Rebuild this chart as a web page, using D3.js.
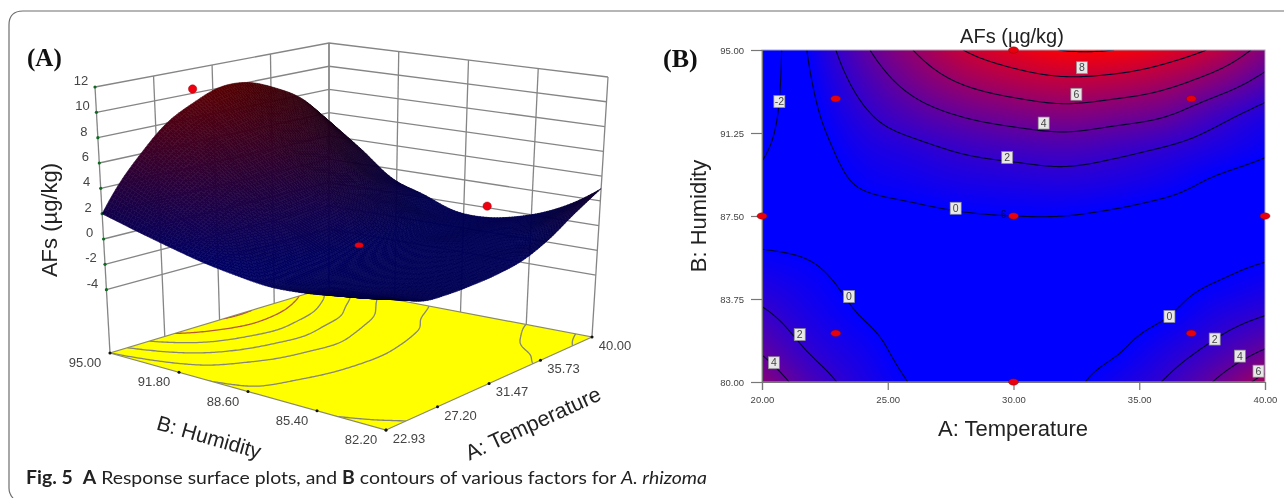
<!DOCTYPE html>
<html>
<head>
<meta charset="utf-8">
<script src="https://cdn.jsdelivr.net/npm/d3@7"></script>
<style>
  html, body { margin: 0; padding: 0; background: #fff; overflow: hidden; }
  svg { display: block; filter: blur(0.45px); }
  text { font-family: "Liberation Sans", Arial, sans-serif; }
</style>
</head>
<body>
<svg id="chart" width="1284" height="498"></svg>
<script>
// response values, one row per humidity
var tempGrid = [20, 22, 24, 26, 28, 30, 32, 34, 36, 38, 40];
var humGrid = [80, 81.5, 83, 84.5, 86, 87.5, 89, 90.5, 92, 93.5, 95];
var afsValues = [
  [5.4, 2.9, 1.2, -0.1, -0.6, -0.7, -0.4, 0.7, 2.1, 4.1, 6.7],
  [3.7, 1.75, 0.6, -0.5, -0.75, -0.8, -0.65, -0.2, 1.0, 2.4, 4.0],
  [2.35, 0.95, -0.05, -0.65, -0.85, -0.85, -0.8, -0.55, -0.1, 1.1, 2.0],
  [1.1, 0.35, -0.4, -0.75, -0.8, -0.8, -0.75, -0.7, -0.5, 0.0, 0.6],
  [0, -0.2, -0.6, -0.6, -0.55, -0.55, -0.55, -0.55, -0.6, -0.5, -0.3],
  [-0.9, -0.6, -0.5, -0.3, -0.1, 0, 0, -0.2, -0.5, -0.7, -0.8],
  [-1.6, -0.75, 0.15, 0.55, 0.95, 1.15, 1.3, 1.05, 0.55, -0.2, -0.7],
  [-2.2, -0.65, 0.8, 1.5, 2.2, 2.6, 2.85, 2.45, 1.85, 1.05, 0.25],
  [-2.75, -0.35, 1.65, 3.05, 4.05, 4.7, 5.1, 4.7, 4.05, 2.6, 1.2],
  [-3.2, 0, 2.6, 4.6, 6.1, 7.0, 7.5, 7.25, 6.5, 5.1, 3.3],
  [-3.6, 0.4, 3.6, 6.0, 8.0, 9.2, 10.05, 10, 9.1, 7.7, 5.3]
];
var contourLevels = [-2, 0, 2, 4, 6, 8, 10];

// 2d contour plot
var designPoints = [[22.93, 92.8], [37.07, 92.8], [22.93, 82.2], [37.07, 82.2], [20, 87.5], [30, 87.5], [40, 87.5], [30, 95], [30, 80]];
var contourLabels = [
  [20.69, 92.67, "-2"], [32.72, 94.2, "8"], [32.5, 93.0, "6"], [31.2, 91.7, "4"], [29.75, 90.14, "2"], [27.7, 87.85, "0"],
  [23.46, 83.86, "0"], [21.5, 82.14, "2"], [20.47, 80.87, "4"],
  [36.2, 82.96, "0"], [38, 81.94, "2"], [39, 81.17, "4"], [39.74, 80.49, "6"]
];
var xTicks2d = [20, 25, 30, 35, 40];
var yTicks2d = [80, 83.75, 87.5, 91.25, 95];

// 3d surface plot
var tempTicks = [22.93, 27.20, 31.47, 35.73, 40.00];
var humTicks = [82.20, 85.40, 88.60, 91.80, 95.00];
var afsTicks = [-4, -2, 0, 2, 4, 6, 8, 10, 12];
var surfacePoints = [[30, 95, 10.35], [40, 87.5, 0.13], [30, 87.5, 0.35]];

var svg = d3.select("#chart");
var defs = svg.append("defs");

// catmull rom through the read values so the drawn surface is not faceted
function cr(p0, p1, p2, p3, t) {
  return 0.5 * (2 * p1 + (p2 - p0) * t + (2 * p0 - 5 * p1 + 4 * p2 - p3) * t * t + (3 * p1 - p0 - 3 * p2 + p3) * t * t * t);
}
function cell(j, i) {
  var nx = tempGrid.length, ny = humGrid.length;
  if (i < 0) return 2 * cell(j, 0) - cell(j, 1);
  if (i >= nx) return 2 * cell(j, nx - 1) - cell(j, nx - 2);
  if (j < 0) return 2 * cell(0, i) - cell(1, i);
  if (j >= ny) return 2 * cell(ny - 1, i) - cell(ny - 2, i);
  return afsValues[j][i];
}
function afsAt(a, b) {
  var u = (a - tempGrid[0]) / (tempGrid[1] - tempGrid[0]);
  var v = (b - humGrid[0]) / (humGrid[1] - humGrid[0]);
  var i = Math.min(Math.floor(u), tempGrid.length - 2), j = Math.min(Math.floor(v), humGrid.length - 2);
  var s = u - i, t = v - j;
  var r = [-1, 0, 1, 2].map(function(dj) {
    return cr(cell(j + dj, i - 1), cell(j + dj, i), cell(j + dj, i + 1), cell(j + dj, i + 2), s);
  });
  return cr(r[0], r[1], r[2], r[3], t);
}

var colorScale = d3.scaleLinear().domain([0, 10.3]).range(["#0000ff", "#ff0000"]).clamp(true);

// contour lines as open polylines in temperature/humidity units
var nx = 201, ny = 151;
var tempOfX = d3.scaleLinear().domain([0.5, nx - 0.5]).range([20, 40]);
var humOfY = d3.scaleLinear().domain([0.5, ny - 0.5]).range([80, 95]);
var fine = new Array(nx * ny);
for (var j = 0; j < ny; j++) for (var i = 0; i < nx; i++) fine[j * nx + i] = afsAt(tempOfX(i + 0.5), humOfY(j + 0.5));
var contourLines = [];
contourLevels.forEach(function(level) {
  d3.contours().size([nx, ny]).thresholds([level])(fine)[0].coordinates.forEach(function(poly) {
    poly.forEach(function(ring) {
      var cur = [];
      ring.forEach(function(p) {
        var edge = p[0] <= 0 || p[0] >= nx || p[1] <= 0 || p[1] >= ny;
        if (edge) { if (cur.length > 1) contourLines.push({ level: level, pts: cur }); cur = []; }
        else cur.push([tempOfX(p[0]), humOfY(p[1])]);
      });
      if (cur.length > 1) contourLines.push({ level: level, pts: cur });
    });
  });
});

// ---------- panel frame and caption
svg.append("path")
  .attr("d", "M13,498 Q9,494 9,488 V25 Q9,11 23,11 H1284")
  .attr("fill", "none").attr("stroke", "#6e6e6e").attr("stroke-width", 1.2);

var cap = svg.append("text").attr("x", 26).attr("y", 484)
  .attr("textLength", 681).attr("lengthAdjust", "spacingAndGlyphs")
  .style("font-family", "Lato").attr("font-size", 18).attr("fill", "#222");
cap.append("tspan").attr("font-weight", "bold").text("Fig. 5");
cap.append("tspan").text("\u00a0 ");
cap.append("tspan").attr("font-weight", "bold").text("A");
cap.append("tspan").text(" Response surface plots, and ");
cap.append("tspan").attr("font-weight", "bold").text("B");
cap.append("tspan").text(" contours of various factors for ");
cap.append("tspan").attr("font-style", "italic").text("A. rhizoma");

svg.append("text").attr("x", 27).attr("y", 66).style("font-family", "'Liberation Serif'")
  .attr("font-weight", "bold").attr("font-size", 25).attr("fill", "#111").text("(A)");
svg.append("text").attr("x", 663).attr("y", 67).style("font-family", "'Liberation Serif'")
  .attr("font-weight", "bold").attr("font-size", 26).attr("fill", "#111").text("(B)");

// ---------- (B) contour plot
var plot = { left: 762, right: 1265, top: 50, bottom: 382 };
var x2d = d3.scaleLinear().domain([20, 40]).range([plot.left, plot.right]);
var y2d = d3.scaleLinear().domain([80, 95]).range([plot.bottom, plot.top]);

var cw = plot.right - plot.left, ch = plot.bottom - plot.top;
var canvas = document.createElement("canvas");
canvas.width = cw; canvas.height = ch;
var ctx = canvas.getContext("2d");
var img = ctx.createImageData(cw, ch);
for (var py = 0; py < ch; py++) {
  for (var px = 0; px < cw; px++) {
    var c = d3.rgb(colorScale(afsAt(x2d.invert(plot.left + px + 0.5), y2d.invert(plot.top + py + 0.5))));
    var o = (py * cw + px) * 4;
    img.data[o] = c.r; img.data[o + 1] = c.g; img.data[o + 2] = c.b; img.data[o + 3] = 255;
  }
}
ctx.putImageData(img, 0, 0);

var b = svg.append("g");
b.append("image").attr("x", plot.left).attr("y", plot.top).attr("width", cw).attr("height", ch)
  .attr("href", canvas.toDataURL());

defs.append("clipPath").attr("id", "plotClip").append("rect")
  .attr("x", plot.left).attr("y", plot.top).attr("width", cw).attr("height", ch);

var line2d = d3.line().x(function(d) { return x2d(d[0]); }).y(function(d) { return y2d(d[1]); });
b.append("g").attr("clip-path", "url(#plotClip)").selectAll("path")
  .data(contourLines).enter().append("path")
  .attr("d", function(d) { return line2d(d.pts); })
  .attr("fill", "none").attr("stroke", "#04042e").attr("stroke-width", 1.1);

b.append("rect").attr("x", plot.left).attr("y", plot.top).attr("width", cw).attr("height", ch)
  .attr("fill", "none").attr("stroke", "#a9a9b8").attr("stroke-width", 1);

var xAxis = b.append("g").attr("transform", "translate(0," + plot.bottom + ")")
  .call(d3.axisBottom(x2d).tickValues(xTicks2d).tickFormat(d3.format(".2f")).tickSize(8).tickPadding(6));
var yAxis = b.append("g").attr("transform", "translate(" + plot.left + ",0)")
  .call(d3.axisLeft(y2d).tickValues(yTicks2d).tickFormat(d3.format(".2f")).tickSize(11).tickPadding(7));
[xAxis, yAxis].forEach(function(ax) {
  ax.selectAll("path").attr("stroke", "#777").attr("stroke-width", 1.2);
  ax.selectAll("line").attr("stroke", "#777").attr("stroke-width", 1.2);
  ax.selectAll("text").style("font-family", "'Liberation Sans'").attr("font-size", 9.5).attr("fill", "#444");
});

var lab = b.selectAll(".clabel").data(contourLabels).enter().append("g").attr("class", "clabel")
  .attr("transform", function(d) { return "translate(" + x2d(d[0]) + "," + y2d(d[1]) + ")"; });
lab.append("rect").attr("x", -5.5).attr("y", -6).attr("width", 11).attr("height", 12)
  .attr("fill", "#e8e8e8").attr("stroke", "#8a8a8a").attr("stroke-width", 0.7);
lab.append("text").attr("text-anchor", "middle").attr("y", 3.6).attr("font-size", 10.5).attr("fill", "#444")
  .text(function(d) { return d[2]; });

b.append("text").attr("x", x2d(29.6)).attr("y", y2d(87.57) + 3.5).attr("text-anchor", "middle")
  .attr("font-size", 10).attr("fill", "#00004a").text("6");

b.selectAll(".dp").data(designPoints).enter().append("ellipse").attr("class", "dp")
  .attr("cx", function(d) { return x2d(d[0]); }).attr("cy", function(d) { return y2d(d[1]); })
  .attr("rx", 5).attr("ry", 3.2).attr("fill", "#e8000c").attr("stroke", "#7a0000").attr("stroke-width", 0.4);

b.append("text").attr("x", 1012).attr("y", 43).attr("text-anchor", "middle").attr("font-size", 20)
  .attr("fill", "#222").text("AFs (\u00b5g/kg)");
b.append("text").attr("x", 1013).attr("y", 436).attr("text-anchor", "middle").attr("font-size", 22)
  .attr("fill", "#222").text("A: Temperature");
b.append("text").attr("transform", "translate(706,216) rotate(-90)").attr("text-anchor", "middle").attr("font-size", 22)
  .attr("fill", "#222").text("B: Humidity");

// ---------- (A) surface plot
var aScale = d3.scaleLinear().domain([22.93, 40]).range([0, 1]);
var bScale = d3.scaleLinear().domain([82.2, 95]).range([0, 1]);
var zScale = d3.scaleLinear().domain([-9, 12]).range([0, 1]);

// box corners on screen: f = low temp low hum, l = low temp high hum, r = high temp low hum, k = back
var floorC = { f: [386, 430], l: [110, 353], r: [592, 337], k: [329, 287] };
var topC = { f: [384, 145], l: [95, 87], r: [608, 77], k: [329, 43] };
function bilin(c, u, v, n) {
  return (1 - u) * (1 - v) * c.f[n] + (1 - u) * v * c.l[n] + u * (1 - v) * c.r[n] + u * v * c.k[n];
}
function project(a, h, z) {
  var u = aScale(a), v = bScale(h), w = zScale(z);
  return [0, 1].map(function(n) { return bilin(floorC, u, v, n) * (1 - w) + bilin(topC, u, v, n) * w; });
}

var a3 = svg.append("g");
var zFloor = zScale.domain()[0], zTop = zScale.domain()[1];
var aMin = tempTicks[0], aMax = tempTicks[4], hMin = humTicks[0], hMax = humTicks[4];
var pathOf = d3.line();
var wallLines = [];
afsTicks.forEach(function(z) {
  wallLines.push([project(aMin, hMax, z), project(aMax, hMax, z), project(aMax, hMin, z)]);
});
tempTicks.forEach(function(t) { wallLines.push([project(t, hMax, zFloor), project(t, hMax, zTop)]); });
humTicks.forEach(function(h) { wallLines.push([project(aMax, h, zFloor), project(aMax, h, zTop)]); });
a3.selectAll(".wall").data(wallLines).enter().append("path").attr("class", "wall")
  .attr("d", pathOf).attr("fill", "none").attr("stroke", "#858585").attr("stroke-width", 1.3);

var floorPoly = [project(aMin, hMin, zFloor), project(aMax, hMin, zFloor), project(aMax, hMax, zFloor), project(aMin, hMax, zFloor)];
a3.append("path").attr("d", pathOf(floorPoly) + "Z").attr("fill", "#ffff00").attr("stroke", "#8a8a6a").attr("stroke-width", 1.2);
defs.append("clipPath").attr("id", "floorClip").append("path").attr("d", pathOf(floorPoly) + "Z");

var lineFloor = d3.line().x(function(d) { return project(d[0], d[1], zFloor)[0]; }).y(function(d) { return project(d[0], d[1], zFloor)[1]; });
a3.append("g").attr("clip-path", "url(#floorClip)").selectAll("path")
  .data(contourLines).enter().append("path")
  .attr("d", function(d) { return lineFloor(d.pts); })
  .attr("fill", "none").attr("stroke-width", 1.3)
  .attr("stroke", function(d) { return d.level >= 8 ? "#b5593a" : "#85857a"; });

// tick dots on the floor and on the left upright
a3.selectAll(".ftick").data(humTicks.map(function(h) { return project(aMin, h, zFloor); })
  .concat(tempTicks.map(function(t) { return project(t, hMin, zFloor); })))
  .enter().append("circle").attr("class", "ftick")
  .attr("cx", function(d) { return d[0]; }).attr("cy", function(d) { return d[1]; }).attr("r", 1.5).attr("fill", "#111");
a3.selectAll(".ztick").data(afsTicks).enter().append("circle").attr("class", "ztick")
  .attr("cx", function(d) { return project(aMin, hMax, d)[0]; }).attr("cy", function(d) { return project(aMin, hMax, d)[1]; })
  .attr("r", 1.6).attr("fill", "#0d6b20");

// surface facets, painted from the back corner to the front
var meshA = d3.range(0, 95).map(d3.scaleLinear().domain([0, 94]).range([aMin, aMax]));
var meshH = d3.range(0, 95).map(d3.scaleLinear().domain([0, 94]).range([hMin, hMax]));
var facets = [];
var light = [-0.45, -0.35, 0.8];
for (var ia = 0; ia < meshA.length - 1; ia++) {
  for (var ih = 0; ih < meshH.length - 1; ih++) {
    var a0 = meshA[ia], a1 = meshA[ia + 1], h0 = meshH[ih], h1 = meshH[ih + 1];
    var z00 = afsAt(a0, h0), z10 = afsAt(a1, h0), z01 = afsAt(a0, h1), z11 = afsAt(a1, h1);
    var zMean = (z00 + z10 + z01 + z11) / 4;
    var dzA = ((z10 + z11) - (z00 + z01)) / 2 / (aScale(a1) - aScale(a0));
    var dzH = ((z01 + z11) - (z00 + z10)) / 2 / (bScale(h1) - bScale(h0));
    var nz = 20, len = Math.sqrt(dzA * dzA + dzH * dzH + nz * nz);
    var dot = (-dzA * light[0] - dzH * light[1] + nz * light[2]) / len;
    var f = 0.07 + 0.33 * Math.max(0, dot);
    var base = d3.rgb(colorScale(zMean));
    facets.push({
      order: ia + ih,
      pts: [project(a0, h0, z00), project(a1, h0, z10), project(a1, h1, z11), project(a0, h1, z01)],
      color: d3.rgb(base.r * f, base.g * f, base.b * f).formatHex()
    });
  }
}
facets.sort(function(p, q) { return q.order - p.order; });
a3.append("g").selectAll("path").data(facets).enter().append("path")
  .attr("d", function(d) { return pathOf(d.pts) + "Z"; })
  .attr("fill", function(d) { return d.color; })
  .attr("stroke", function(d) { return d.color; }).attr("stroke-width", 0.6);

a3.selectAll(".sp").data(surfacePoints).enter().append("ellipse").attr("class", "sp")
  .attr("cx", function(d) { return project(d[0], d[1], d[2])[0]; })
  .attr("cy", function(d) { return project(d[0], d[1], d[2])[1]; })
  .attr("rx", 4.2).attr("ry", function(d, i) { return i === 2 ? 2.6 : 4.2; })
  .attr("fill", "#ee0010").attr("stroke", "#8a0000").attr("stroke-width", 0.4);

// tick labels
var tickStyle = { size: 13, fill: "#444" };
function tickLabels(sel, data, cls, pos, txt) {
  sel.selectAll("." + cls).data(data).enter().append("text").attr("class", cls)
    .attr("text-anchor", "middle").attr("font-size", tickStyle.size).attr("fill", tickStyle.fill)
    .attr("x", function(d) { return pos(d)[0]; }).attr("y", function(d) { return pos(d)[1]; })
    .text(txt);
}
tickLabels(a3, afsTicks, "zlab", function(d) { var p = project(aMin, hMax, d); return [p[0] - 14, p[1] - 2]; }, function(d) { return d; });
tickLabels(a3, humTicks, "hlab", function(d) { var p = project(aMin, d, zFloor); return [p[0] - 25, p[1] + 14]; }, d3.format(".2f"));
tickLabels(a3, tempTicks, "alab", function(d) { var p = project(d, hMin, zFloor); return [p[0] + 23, p[1] + 13]; }, d3.format(".2f"));

a3.append("text").attr("transform", "translate(57,220) rotate(-90)").attr("text-anchor", "middle")
  .attr("font-size", 22).attr("fill", "#222").text("AFs (\u00b5g/kg)");
a3.append("text").attr("transform", "translate(207,444) rotate(16)").attr("text-anchor", "middle")
  .attr("font-size", 21).attr("fill", "#222").text("B: Humidity");
a3.append("text").attr("transform", "translate(536,430) rotate(-24.7)").attr("text-anchor", "middle")
  .attr("font-size", 21.5).attr("fill", "#222").text("A: Temperature");
</script>
</body>
</html>
